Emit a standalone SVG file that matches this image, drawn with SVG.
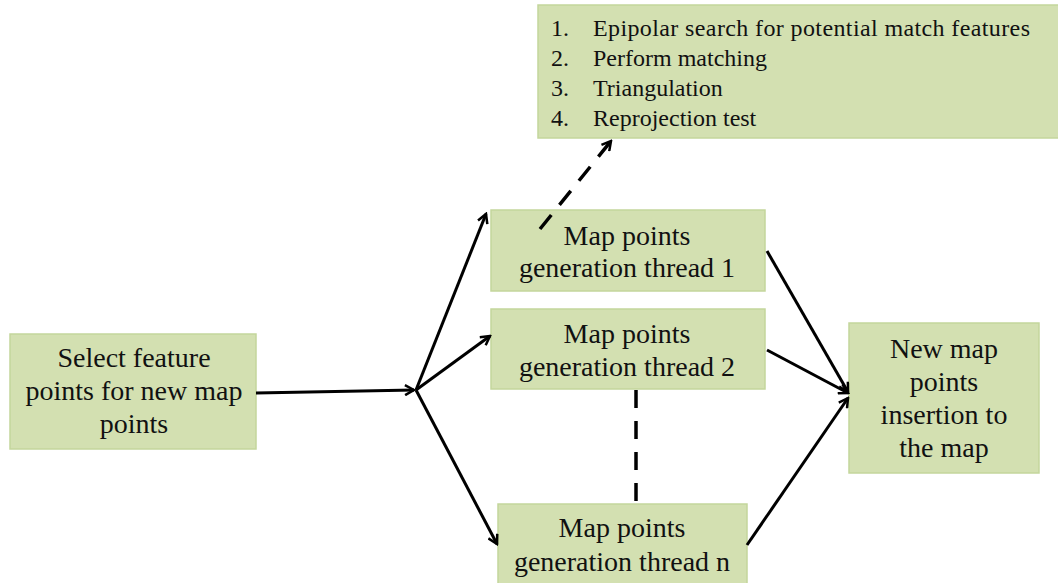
<svg xmlns="http://www.w3.org/2000/svg" width="1058" height="583" viewBox="0 0 1058 583">
<style>
.box{fill:#d3e0b1;stroke:#c4d69c;stroke-width:1.5}
.t{font-family:'Liberation Serif',serif;font-size:28px;fill:#111;text-anchor:middle}
.l{font-family:'Liberation Serif',serif;font-size:24px;fill:#111}
.c{stroke:#000;stroke-width:3;fill:none}
.d{stroke:#000;stroke-width:3.5;fill:none;stroke-dasharray:18,13}
</style>
<defs>
<marker id="a" viewBox="0 0 12 12" refX="10" refY="6" markerWidth="12" markerHeight="12" markerUnits="userSpaceOnUse" orient="auto">
<path d="M1,1 L10,6 L1,11" fill="none" stroke="#000" stroke-width="2.5"/>
</marker>
</defs>
<rect width="1058" height="583" fill="#fff"/>
<g id="steps">
<rect class="box" x="538" y="5" width="525" height="133"/>
<text class="l" font-family="Liberation Serif" x="551" y="36">1.</text><text class="l" font-family="Liberation Serif" x="593" y="36" textLength="437" lengthAdjust="spacing">Epipolar search for potential match features</text>
<text class="l" font-family="Liberation Serif" x="551" y="66">2.</text><text class="l" font-family="Liberation Serif" x="593" y="66">Perform matching</text>
<text class="l" font-family="Liberation Serif" x="551" y="96">3.</text><text class="l" font-family="Liberation Serif" x="593" y="96">Triangulation</text>
<text class="l" font-family="Liberation Serif" x="551" y="126">4.</text><text class="l" font-family="Liberation Serif" x="593" y="126">Reprojection test</text>
</g>
<g id="select">
<rect class="box" x="10" y="334" width="246" height="115"/>
<text class="t" font-family="Liberation Serif" x="134" y="367">Select feature</text>
<text class="t" font-family="Liberation Serif" x="134" y="400">points for new map</text>
<text class="t" font-family="Liberation Serif" x="134" y="433">points</text>
</g>
<g id="thread1">
<rect class="box" x="491" y="210" width="274" height="81"/>
<text class="t" font-family="Liberation Serif" x="627" y="245">Map points</text>
<text class="t" font-family="Liberation Serif" x="627" y="277">generation thread 1</text>
</g>
<g id="thread2">
<rect class="box" x="491" y="309" width="274" height="80"/>
<text class="t" font-family="Liberation Serif" x="627" y="343">Map points</text>
<text class="t" font-family="Liberation Serif" x="627" y="376">generation thread 2</text>
</g>
<g id="threadn">
<rect class="box" x="498" y="504" width="249" height="85"/>
<text class="t" font-family="Liberation Serif" x="622" y="537">Map points</text>
<text class="t" font-family="Liberation Serif" x="622" y="571">generation thread n</text>
</g>
<g id="insert">
<rect class="box" x="849" y="323" width="190" height="150"/>
<text class="t" font-family="Liberation Serif" x="944" y="358">New map</text>
<text class="t" font-family="Liberation Serif" x="944" y="391">points</text>
<text class="t" font-family="Liberation Serif" x="944" y="424">insertion to</text>
<text class="t" font-family="Liberation Serif" x="944" y="457">the map</text>
</g>
<g id="connectors">
<line class="c" x1="256" y1="393" x2="414" y2="390" marker-end="url(#a)"/>
<line class="c" x1="416" y1="390" x2="486" y2="214" marker-end="url(#a)"/>
<line class="c" x1="416" y1="390" x2="490" y2="336" marker-end="url(#a)"/>
<line class="c" x1="416" y1="390" x2="497" y2="544" marker-end="url(#a)"/>
<line class="c" x1="767" y1="251" x2="848" y2="392" marker-end="url(#a)"/>
<line class="c" x1="767" y1="350" x2="848" y2="393" marker-end="url(#a)"/>
<line class="c" x1="747" y1="545" x2="848" y2="398" marker-end="url(#a)"/>
<line class="d" x1="540" y1="229" x2="611" y2="141" marker-end="url(#a)"/>
<line class="d" x1="636" y1="390" x2="636" y2="503"/>
</g>
</svg>
